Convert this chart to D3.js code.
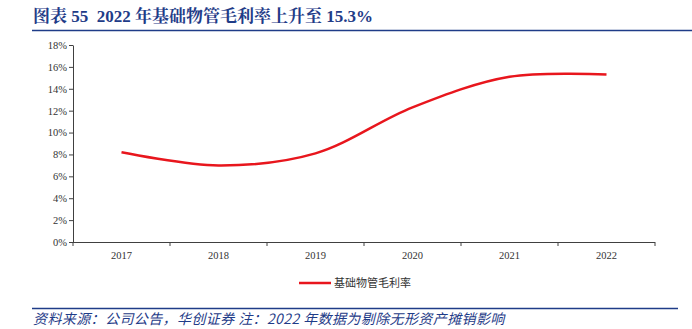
<!DOCTYPE html>
<html><head><meta charset="utf-8">
<script src="https://cdn.jsdelivr.net/npm/d3@7"></script>
<style>
body{margin:0;background:#fff;}
svg{display:block;}
text{white-space:pre;}
</style></head>
<body>
<svg id="c" width="692" height="329"></svg>
<script>
const categories = ["2017","2018","2019","2020","2021","2022"];
const seriesName = "基础物管毛利率";
const values = [8.2, 7.0, 8.1, 12.3, 15.1, 15.3];
const yTicks = [0,2,4,6,8,10,12,14,16,18];
const titleText = "图表 55  2022 年基础物管毛利率上升至 15.3%";
const sourceText = "资料来源：公司公告，华创证券 注：2022 年数据为剔除无形资产摊销影响";

const svg = d3.select("#c");
const serif = "'Liberation Serif','Times New Roman','Noto Serif CJK SC','Noto Sans CJK SC',serif";
const titleBlue = "#1f3c88";

// Title
svg.append("text").attr("x",33).attr("y",22)
  .attr("font-family",serif).attr("font-weight","bold").attr("font-size",17)
  .attr("fill",titleBlue).text(titleText);
svg.append("line").attr("x1",32).attr("x2",692).attr("y1",30.5).attr("y2",30.5)
  .attr("stroke",titleBlue).attr("stroke-width",1.5);

const x = d3.scaleBand().domain(categories).range([73,655]);
const y = d3.scaleLinear().domain([0,18]).range([242,45]);

// Y axis
const yAxis = d3.axisLeft(y).tickValues(yTicks).tickFormat(d=>d+"%").tickSize(4).tickSizeOuter(0);
const gy = svg.append("g").attr("transform","translate(73,0)").call(yAxis);
gy.select(".domain").attr("stroke","#404040");
gy.selectAll(".tick line").attr("stroke","#404040");
gy.selectAll(".tick text").attr("font-family",serif).attr("font-size",10.5).attr("fill","#333").attr("x",-6);

// X axis
const gx = svg.append("g").attr("transform","translate(0,242)");
gx.append("line").attr("x1",73).attr("x2",655).attr("y1",0.5).attr("y2",0.5).attr("stroke","#404040");
const bounds = categories.map(c=>x(c)).concat([x(categories[categories.length-1])+x.bandwidth()]);
gx.selectAll("line.tk").data(bounds).enter().append("line").attr("class","tk")
  .attr("x1",d=>d).attr("x2",d=>d).attr("y1",0).attr("y2",4).attr("stroke","#404040");
gx.selectAll("text").data(categories).enter().append("text")
  .attr("x",d=>x(d)+x.bandwidth()/2).attr("y",17).attr("text-anchor","middle")
  .attr("font-family",serif).attr("font-size",10.5).attr("fill","#333").text(d=>d);

// Line
const line = d3.line().x((d,i)=>x(categories[i])+x.bandwidth()/2).y(d=>y(d))
  .curve(d3.curveCatmullRom.alpha(0.5));
svg.append("path").datum(values).attr("d",line).attr("fill","none")
  .attr("stroke","#e8161d").attr("stroke-width",2.5);

// Legend
svg.append("line").attr("x1",299).attr("x2",331).attr("y1",283).attr("y2",283)
  .attr("stroke","#e8161d").attr("stroke-width",2.5);
svg.append("text").attr("x",334).attr("y",287).attr("font-family","'Noto Sans CJK SC',sans-serif")
  .attr("font-size",11).attr("fill","#333").text(seriesName);

// Footer
svg.append("line").attr("x1",32).attr("x2",678).attr("y1",308.5).attr("y2",308.5)
  .attr("stroke",titleBlue).attr("stroke-width",1.5);
svg.append("text").attr("x",33).attr("y",324).attr("font-family","'Noto Sans CJK SC',sans-serif")
  .attr("font-style","italic").attr("font-size",14).attr("letter-spacing",0.4)
  .attr("fill","#1f3c88").text(sourceText);
</script>
</body></html>
